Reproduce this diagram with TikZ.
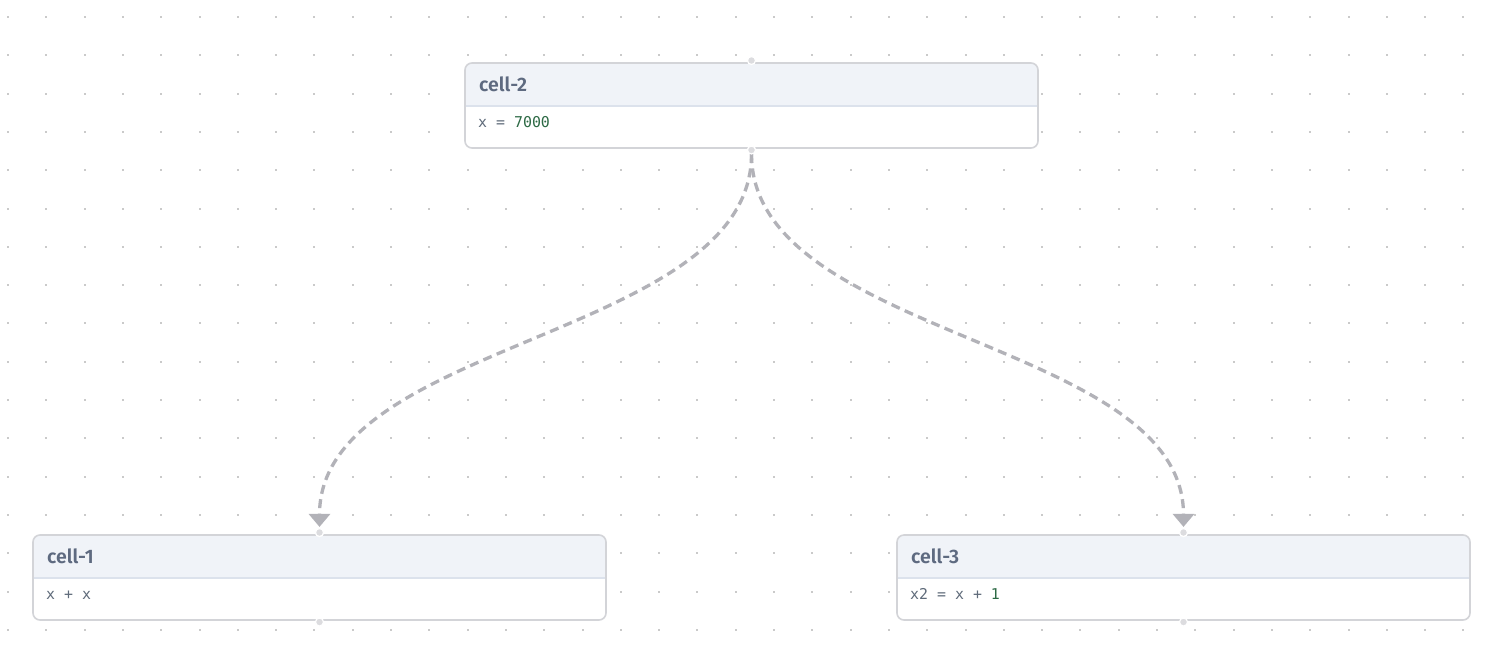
\documentclass[tikz,border=0pt]{standalone}
\usepackage{fontspec}
\setmainfont{Fira Sans}
\newfontfamily\hdrfont{Fira Sans SemiBold}
\newfontfamily\codefont{DejaVu Sans Mono}
\usetikzlibrary{arrows.meta}
\definecolor{gridc}{HTML}{CACACA}
\definecolor{borderc}{HTML}{D3D4D8}
\definecolor{headc}{HTML}{F0F3F8}
\definecolor{sepc}{HTML}{DCE2EC}
\definecolor{titlec}{HTML}{5E6A80}
\definecolor{codec}{HTML}{5F6B7A}
\definecolor{numc}{HTML}{2D6A45}
\definecolor{edgec}{HTML}{B2B2B8}
\definecolor{handlec}{HTML}{DCDCDF}
\tikzset{
  cellbox/.style={draw=borderc, line width=1.6pt, rounded corners=7pt, minimum width=573pt, minimum height=85pt, inner sep=0pt},
  handle/.style={circle, fill=handlec, draw=white, line width=1.2pt, minimum size=8pt, inner sep=0pt},
  edge/.style={draw=edgec, line width=3.3pt, dash pattern=on 9pt off 5.5pt, -{Triangle[width=21pt,length=13pt]}},
  title/.style={anchor=base west, text=titlec, font=\hdrfont\fontsize{19.5}{22}\selectfont, inner sep=0pt},
  code/.style={anchor=base west, text=codec, font=\codefont\fontsize{14.9}{17}\selectfont, inner sep=0pt}
}
\newcommand{\cellnode}[6]{%
  % #1 name, #2 left x, #3 top y, #4 title, #5 body
  \begin{scope}
    \clip[rounded corners=7pt] (#2,#3) rectangle ++(573,85);
    \fill[white] (#2,#3) rectangle ++(573,85);
    \fill[headc] (#2,#3) rectangle ++(573,43);
    \draw[sepc, line width=1.4pt] (#2,#3+43) -- ++(573,0);
  \end{scope}
  \node[cellbox] (#1) at (#2+286.5,#3+42.5) {};
  \node[title] (#1-title) at (#2+14,#3+28) {#4};
  \node[code] (#1-body) at (#2+13,#3+64) {#5};
  \node[handle] (#1-top) at (#2+286.5,#3-2.5) {};
  \node[handle] (#1-bot) at (#2+286.5,#3+87) {};
}
\begin{document}
\begin{tikzpicture}[x=1pt,y=-1pt]
\useasboundingbox (0,0) rectangle (1498,654);
\fill[white] (0,0) rectangle (1498,654);
\foreach \i in {0,...,38} {
  \foreach \j in {0,...,16} {
    \fill[gridc] ({8+38.3*\i-1},{17+38.3*\j-1}) rectangle ++(2,2);
  }
}
\cellnode{c2}{465}{63}{cell-2}{x = \textcolor{numc}{7000}}{}
\cellnode{c1}{33}{535}{cell-1}{x + x}{}
\cellnode{c3}{897}{535}{cell-3}{x2 = x + \textcolor{numc}{1}}{}
\draw[edge, shorten <=4pt, shorten >=1pt] (c2-bot.center) .. controls +(0,188) and +(0,-188) .. (c1-top.north);
\draw[edge, shorten <=4pt, shorten >=1pt] (c2-bot.center) .. controls +(0,188) and +(0,-188) .. (c3-top.north);
\node[handle] at (c2-bot) {};
\node[handle] at (c1-top) {};
\node[handle] at (c3-top) {};
\end{tikzpicture}
\end{document}
